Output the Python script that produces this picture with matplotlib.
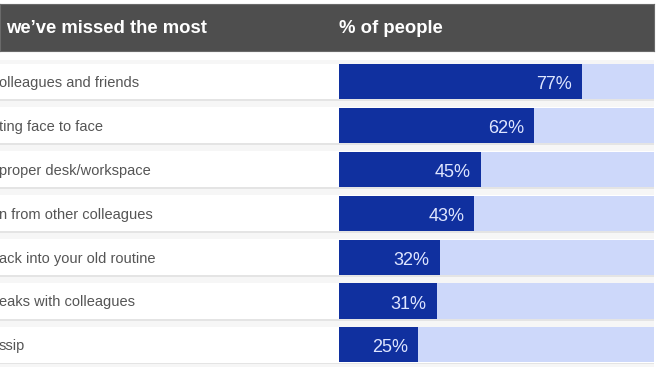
import matplotlib.pyplot as plt

labels = ["olleagues and friends", "ting face to face", "proper desk/workspace",
          "n from other colleagues", "ack into your old routine",
          "eaks with colleagues", "ssip"]
values = [77, 62, 45, 43, 32, 31, 25]
header_left = "we\u2019ve missed the most"
header_right = "% of people"

W, H = 660, 371
dark = "#10309f"
light = "#cdd8fa"
head = "#4e4e4e"

plt.rcParams['font.family'] = ['Liberation Sans', 'DejaVu Sans']
fig = plt.figure(figsize=(W / 100, H / 100), dpi=100)
fig.patch.set_facecolor("white")


def px_axes(x0, y0, x1, y1):
    # axes from pixel box (top-left origin)
    return fig.add_axes([x0 / W, 1 - y1 / H, (x1 - x0) / W, (y1 - y0) / H])


# header
hax = px_axes(0, 4, 654, 51)
hax.set_xlim(0, 654)
hax.set_ylim(0, 1)
hax.set_facecolor(head)
for s in hax.spines.values():
    s.set_color("#6a6a6a")
hax.set_xticks([])
hax.set_yticks([])
hax.text(6, 0.48, header_left, color="white", fontsize=13.3, fontweight="bold", va="center")
hax.text(339, 0.48, header_right, color="white", fontsize=13.3, fontweight="bold", va="center")

n = len(values)
pitch = 43.9
top = 81.5 - pitch / 2
bottom = top + pitch * n
pos = list(range(n))

# row boxes behind everything
lax = px_axes(0, top, 654, bottom)
lax.set_facecolor("#f6f6f6")
lax.barh([p + 0.42 for p in pos], [1] * n, height=0.05, color="#e4e4e4")
lax.barh(pos, [1] * n, height=0.82, left=0, color="white")
lax.set_xlim(0, 1)
lax.set_ylim(n - 0.5, -0.5)
lax.set_xticks([])
lax.set_yticks([])
for s in lax.spines.values():
    s.set_visible(False)
for i, lab in enumerate(labels):
    lax.text(-0.002, i + 0.125, lab, color="#555555", fontsize=10.5, va="baseline", ha="left")

# bars
bax = px_axes(339, top, 654, bottom)
bax.barh(pos, [100] * n, height=0.8, color=light)
bax.barh(pos, values, height=0.8, color=dark)
bax.set_xlim(0, 100)
bax.set_ylim(n - 0.5, -0.5)
bax.axis("off")
for i, v in enumerate(values):
    bax.text(v - 3.2, i + 0.07, f"{v}%", color="#dfe6ff", fontsize=13, va="center", ha="right")

fig.savefig("out.png", dpi=100)
